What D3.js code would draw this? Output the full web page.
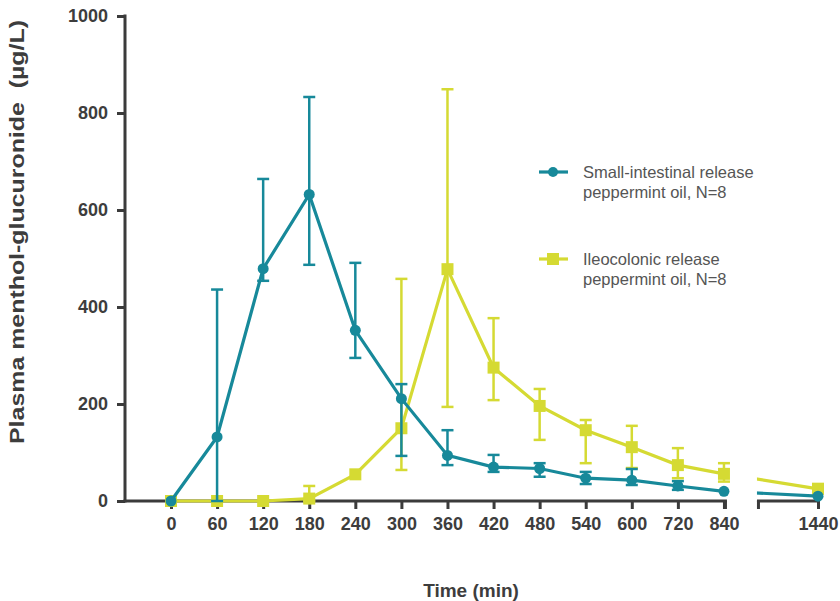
<!DOCTYPE html>
<html>
<head>
<meta charset="utf-8">
<script src="https://cdn.jsdelivr.net/npm/d3@7"></script>
<style>
  body { margin: 0; background: #fff; }
  svg { font-family: "Liberation Sans", Arial, sans-serif; }
</style>
</head>
<body>
<svg id="chart" width="840" height="601"></svg>
<script>
// time points (min)
const times = [0, 60, 120, 180, 240, 300, 360, 420, 480, 540, 600, 720, 840, 1440];
const yTicks = [0, 200, 400, 600, 800, 1000];

// small-intestinal release
const siMean = [0, 132, 479, 632, 352, 211, 94, 70, 67, 47, 43, 31, 20, 10];
const siUpper = [0, 436, 664, 833, 491, 241, 146, 95, 78, 60, 66, 41, 20, 10];
const siLower = [0, 0, 454, 487, 295, 93, 74, 60, 50, 35, 33, 23, 20, 10];

// ileocolonic release
const icMean = [0, 0, 0, 5, 55, 150, 478, 275, 196, 146, 111, 74, 56, 25];
const icUpper = [0, 0, 0, 31, 55, 458, 849, 377, 231, 167, 155, 109, 78, 35];
const icLower = [0, 0, 0, 0, 55, 64, 194, 208, 126, 78, 68, 47, 40, 20];

const teal = "#17899a";
const yellow = "#d5da33";
const axisCol = "#3b3b3b";
const textCol = "#3d3d3d";

const svg = d3.select("#chart");

// x positions: 0..840 evenly spaced, then a break before 1440
const x0 = 171, step = 46.08;
const xRange = times.map((t, i) => i < times.length - 1 ? x0 + i * step : 818);
const x = d3.scaleLinear().domain(times).range(xRange);
const y = d3.scaleLinear().domain([0, 1000]).range([501, 16]);

const axisLeftX = 125;
const breakStart = x(840) + 3, breakEnd = x(840) + 33;

// y axis
const gy = svg.append("g").attr("transform", `translate(${axisLeftX},0)`)
  .call(d3.axisLeft(y).tickValues(yTicks).tickFormat(d3.format("d")).tickSize(8).tickSizeOuter(0).tickPadding(9));
gy.select(".domain").remove();
gy.selectAll(".tick line").attr("stroke", axisCol).attr("stroke-width", 3);
gy.selectAll(".tick text").attr("fill", textCol).style("font-size", "18px").style("font-weight", "bold");
gy.append("line").attr("x1", 0).attr("x2", 0).attr("y1", y(1000) - 1.5).attr("y2", y(0) + 1.5)
  .attr("stroke", axisCol).attr("stroke-width", 3);

// x axis with break
const gx = svg.append("g").attr("transform", `translate(0,${y(0)})`)
  .call(d3.axisBottom(x).tickValues(times).tickFormat(d3.format("d")).tickSize(8).tickSizeOuter(0).tickPadding(8));
gx.select(".domain").remove();
gx.selectAll(".tick line").attr("stroke", axisCol).attr("stroke-width", 3);
gx.selectAll(".tick text").attr("fill", textCol).style("font-size", "18px").style("font-weight", "bold");
gx.append("line").attr("x1", axisLeftX - 1.5).attr("x2", breakStart).attr("y1", 0).attr("y2", 0)
  .attr("stroke", axisCol).attr("stroke-width", 3);
gx.append("line").attr("x1", breakStart - 1.5).attr("x2", breakStart - 1.5).attr("y1", 0).attr("y2", 8)
  .attr("stroke", axisCol).attr("stroke-width", 3);
gx.append("line").attr("x1", breakEnd).attr("x2", x(1440) + 1.5).attr("y1", 0).attr("y2", 0)
  .attr("stroke", axisCol).attr("stroke-width", 3);
gx.append("line").attr("x1", breakEnd + 1.5).attr("x2", breakEnd + 1.5).attr("y1", 0).attr("y2", 8)
  .attr("stroke", axisCol).attr("stroke-width", 3);

// clip lines out of the break
const clip = svg.append("clipPath").attr("id", "brk");
clip.append("rect").attr("x", 0).attr("y", 0).attr("width", breakStart).attr("height", 601);
clip.append("rect").attr("x", breakEnd).attr("y", 0).attr("width", 840 - breakEnd).attr("height", 601);

function series(mean, upper, lower, color, marker) {
  const data = times.map((t, i) => ({ t, m: mean[i], u: upper[i], l: lower[i] }));
  const g = svg.append("g");
  // error bars
  const eb = g.selectAll(".eb").data(data.filter(d => d.u !== d.l)).enter().append("g");
  eb.append("line").attr("x1", d => x(d.t)).attr("x2", d => x(d.t))
    .attr("y1", d => y(d.u)).attr("y2", d => y(d.l))
    .attr("stroke", color).attr("stroke-width", 2.5);
  ["u", "l"].forEach(k => {
    eb.filter(d => d[k] !== d.m).append("line")
      .attr("x1", d => x(d.t) - 6).attr("x2", d => x(d.t) + 6)
      .attr("y1", d => y(d[k])).attr("y2", d => y(d[k]))
      .attr("stroke", color).attr("stroke-width", 2.5);
  });
  g.append("path").datum(data)
    .attr("clip-path", "url(#brk)")
    .attr("d", d3.line().x(d => x(d.t)).y(d => y(d.m)))
    .attr("fill", "none").attr("stroke", color).attr("stroke-width", 3.2);
  if (marker === "circle") {
    g.selectAll(".mk").data(data).enter().append("circle")
      .attr("cx", d => x(d.t)).attr("cy", d => y(d.m)).attr("r", 5.5).attr("fill", color);
  } else {
    g.selectAll(".mk").data(data).enter().append("rect")
      .attr("x", d => x(d.t) - 6).attr("y", d => y(d.m) - 6)
      .attr("width", 12).attr("height", 12).attr("fill", color);
  }
}

series(icMean, icUpper, icLower, yellow, "square");
series(siMean, siUpper, siLower, teal, "circle");

// legend
const legend = [
  { color: teal, marker: "circle", lines: ["Small-intestinal release", "peppermint oil, N=8"], y: 172 },
  { color: yellow, marker: "square", lines: ["Ileocolonic release", "peppermint oil, N=8"], y: 259 }
];
legend.forEach(l => {
  const g = svg.append("g");
  g.append("line").attr("x1", 539).attr("x2", 568).attr("y1", l.y).attr("y2", l.y)
    .attr("stroke", l.color).attr("stroke-width", 3.2);
  if (l.marker === "circle") g.append("circle").attr("cx", 553).attr("cy", l.y).attr("r", 5).attr("fill", l.color);
  else g.append("rect").attr("x", 547).attr("y", l.y - 6).attr("width", 12).attr("height", 12).attr("fill", l.color);
  l.lines.forEach((s, i) => {
    g.append("text").attr("x", 583).attr("y", l.y + 6 + i * 20)
      .attr("fill", "#555").style("font-size", "16.5px").text(s);
  });
});

// axis titles
svg.append("text").attr("x", 471).attr("y", 597).attr("text-anchor", "middle")
  .attr("fill", textCol).style("font-size", "19px").style("font-weight", "bold").text("Time (min)");
svg.append("text").attr("transform", "translate(24,232) rotate(-90)").attr("text-anchor", "middle")
  .attr("fill", textCol).style("font-size", "20px").style("font-weight", "bold")
  .attr("textLength", 424).attr("lengthAdjust", "spacingAndGlyphs")
  .attr("xml:space", "preserve").text("Plasma menthol-glucuronide  (µg/L)");
</script>
</body>
</html>
